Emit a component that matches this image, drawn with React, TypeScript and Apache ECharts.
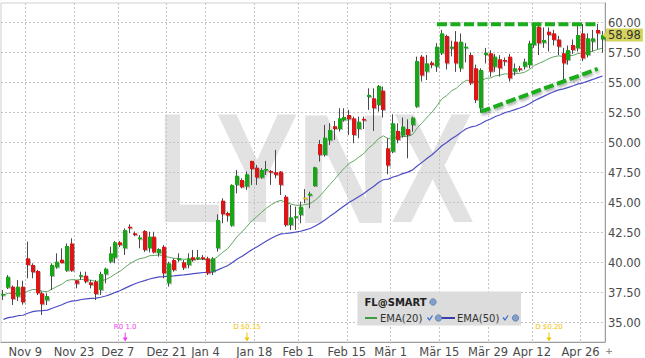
import React, { useEffect, useRef } from "react";
import * as echarts from "echarts";

const dates = [
  "2020-11-02","2020-11-03","2020-11-04","2020-11-05","2020-11-06","2020-11-09","2020-11-10","2020-11-11","2020-11-12","2020-11-13",
  "2020-11-16","2020-11-17","2020-11-18","2020-11-19","2020-11-20","2020-11-23","2020-11-24","2020-11-25","2020-11-27","2020-11-30",
  "2020-12-01","2020-12-02","2020-12-03","2020-12-04","2020-12-07","2020-12-08","2020-12-09","2020-12-10","2020-12-11","2020-12-14",
  "2020-12-15","2020-12-16","2020-12-17","2020-12-18","2020-12-21","2020-12-22","2020-12-23","2020-12-24","2020-12-28","2020-12-29",
  "2020-12-30","2020-12-31","2021-01-04","2021-01-05","2021-01-06","2021-01-07","2021-01-08","2021-01-11","2021-01-12","2021-01-13",
  "2021-01-14","2021-01-15","2021-01-19","2021-01-20","2021-01-21","2021-01-22","2021-01-25","2021-01-26","2021-01-27","2021-01-28",
  "2021-01-29","2021-02-01","2021-02-02","2021-02-03","2021-02-04","2021-02-05","2021-02-08","2021-02-09","2021-02-10","2021-02-11",
  "2021-02-12","2021-02-16","2021-02-17","2021-02-18","2021-02-19","2021-02-22","2021-02-23","2021-02-24","2021-02-25","2021-02-26",
  "2021-03-01","2021-03-02","2021-03-03","2021-03-04","2021-03-05","2021-03-08","2021-03-09","2021-03-10","2021-03-11","2021-03-12",
  "2021-03-15","2021-03-16","2021-03-17","2021-03-18","2021-03-19","2021-03-22","2021-03-23","2021-03-24","2021-03-25","2021-03-26",
  "2021-03-29","2021-03-30","2021-03-31","2021-04-01","2021-04-05","2021-04-06","2021-04-07","2021-04-08","2021-04-09","2021-04-12",
  "2021-04-13","2021-04-14","2021-04-15","2021-04-16","2021-04-19","2021-04-20","2021-04-21","2021-04-22","2021-04-23","2021-04-26",
  "2021-04-27","2021-04-28","2021-04-29","2021-04-30",
];

const opens = [
  37.35,37.92,38.00,37.17,38.00,40.36,39.81,39.31,37.45,36.86,
  38.89,39.61,40.25,39.33,41.60,38.53,38.86,38.92,38.36,38.42,
  37.72,39.03,40.08,40.42,41.70,41.20,43.00,42.45,41.95,42.64,
  41.20,42.17,40.78,41.33,38.28,40.22,40.25,40.03,39.81,40.45,
  40.36,40.45,40.36,39.25,41.20,45.17,44.14,43.09,46.48,46.89,
  46.34,48.48,47.92,47.09,47.73,47.64,47.53,47.59,45.50,43.14,
  43.80,43.98,45.42,45.59,46.39,49.89,48.98,50.20,51.37,51.14,
  51.87,52.31,52.03,51.14,51.98,53.81,53.70,53.14,54.34,49.53,
  49.25,50.98,50.59,51.14,51.48,53.00,57.17,55.92,56.67,56.33,
  57.45,58.89,57.83,58.42,56.20,57.90,57.31,56.20,52.86,57.31,
  57.45,56.33,56.95,56.89,57.17,55.92,56.20,56.33,56.47,58.14,
  59.67,58.33,59.25,59.11,58.60,57.45,56.89,58.14,57.86,59.11,
  57.30,58.42,59.39,58.60,
];
const highs = [
  37.72,38.97,38.10,38.56,38.50,41.75,39.95,39.40,37.60,37.45,
  39.95,40.78,41.20,41.60,42.03,38.56,39.25,39.25,38.56,38.56,
  39.25,39.58,41.33,41.80,41.80,42.86,43.20,42.60,42.30,42.72,
  42.58,42.58,41.20,41.47,40.08,40.36,40.78,40.22,40.78,41.06,
  41.06,40.64,40.50,40.45,44.03,45.37,44.25,46.53,47.73,47.03,
  47.59,48.50,48.14,47.87,48.48,47.73,49.40,47.64,45.64,44.81,
  44.67,45.09,46.14,45.92,48.00,50.23,51.48,51.62,51.81,52.87,
  52.87,52.73,52.17,52.17,52.17,54.53,54.53,54.81,54.67,50.37,
  52.37,51.62,52.09,51.95,52.17,57.17,57.31,57.31,56.80,58.30,
  59.40,59.00,58.50,59.30,59.10,58.30,57.50,56.50,56.20,57.90,
  57.70,57.40,57.30,57.10,57.40,56.60,56.40,57.00,58.50,60.00,
  60.00,59.60,59.60,59.40,58.90,57.90,58.10,58.60,59.80,59.90,
  59.10,59.40,59.90,59.30,
];
const lows = [
  36.89,37.81,36.47,36.81,36.50,38.70,38.70,37.30,35.64,36.47,
  37.72,39.50,39.95,39.25,39.25,37.86,38.56,38.28,37.86,36.89,
  37.31,38.28,39.95,39.95,41.30,40.64,42.45,42.20,41.20,40.90,
  40.86,40.78,40.50,38.70,38.00,39.25,40.08,39.39,39.53,40.08,
  40.22,40.22,38.97,38.97,40.92,43.28,43.42,43.00,45.78,46.20,
  46.06,46.48,46.48,47.00,47.31,46.48,47.03,45.64,43.00,42.73,
  42.73,43.28,44.95,44.53,46.34,48.42,48.84,49.81,50.23,50.92,
  51.75,50.64,49.95,50.37,51.14,52.73,50.98,52.59,52.09,47.37,
  49.12,49.95,50.42,48.70,50.92,52.92,55.10,55.22,56.20,55.90,
  57.30,56.10,57.20,55.90,55.90,56.70,54.80,53.30,52.50,56.60,
  55.50,55.90,55.50,56.40,55.10,55.60,55.90,56.10,56.20,57.90,
  57.30,57.90,57.60,58.10,57.30,55.20,56.50,57.40,57.60,56.80,
  57.10,57.60,57.80,57.50,
];
const closes = [
  37.40,38.83,36.97,38.00,36.70,39.81,39.20,37.45,36.53,37.22,
  39.81,40.08,39.97,41.39,39.33,38.25,38.97,38.42,38.14,37.39,
  39.06,39.50,40.78,41.70,41.47,42.72,42.86,42.30,42.10,41.06,
  42.17,40.86,41.14,39.11,39.95,39.39,40.36,39.58,40.36,40.22,
  40.45,40.30,39.11,40.36,43.56,44.03,43.92,46.48,47.25,46.28,
  47.37,47.81,47.09,47.73,47.81,47.53,47.31,46.48,43.14,43.78,
  43.87,44.67,45.42,45.75,47.95,48.98,50.42,51.06,51.14,52.03,
  52.14,51.95,50.64,51.75,51.87,53.98,52.87,54.73,52.73,48.09,
  51.62,50.23,51.34,50.64,52.09,56.81,55.60,56.61,56.47,58.00,
  59.11,56.61,58.00,56.61,58.42,58.00,54.95,53.56,56.06,57.50,
  55.92,57.17,56.20,56.78,55.36,56.20,56.10,56.75,58.28,59.72,
  58.28,58.56,58.97,58.56,58.00,56.61,57.72,57.72,58.97,57.03,
  58.70,58.70,59.11,58.98,
];

const ema20 = [
  37.31,37.45,37.40,37.46,37.39,37.62,37.77,37.74,37.62,37.59,
  37.80,38.02,38.20,38.51,38.59,38.56,38.60,38.58,38.54,38.43,
  38.49,38.59,38.80,39.07,39.30,39.63,39.93,40.16,40.34,40.41,
  40.58,40.60,40.65,40.51,40.46,40.36,40.36,40.28,40.29,40.28,
  40.30,40.30,40.19,40.20,40.52,40.86,41.15,41.65,42.19,42.58,
  43.03,43.49,43.83,44.20,44.55,44.83,45.07,45.20,45.01,44.89,
  44.79,44.78,44.84,44.93,45.21,45.57,46.03,46.51,46.95,47.44,
  47.89,48.27,48.50,48.81,49.10,49.56,49.88,50.34,50.57,50.33,
  50.46,50.43,50.52,50.53,50.68,51.26,51.67,52.14,52.55,53.07,
  53.65,53.93,54.32,54.54,54.91,55.20,55.18,55.03,55.13,55.35,
  55.40,55.57,55.63,55.74,55.70,55.75,55.78,55.87,56.10,56.44,
  56.62,56.80,57.01,57.16,57.24,57.18,57.23,57.28,57.44,57.40,
  57.52,57.63,57.77,57.89,
];
const ema50 = [
  35.28,35.42,35.48,35.58,35.62,35.79,35.92,35.98,36.00,36.05,
  36.20,36.35,36.49,36.68,36.79,36.84,36.93,36.98,37.03,37.04,
  37.12,37.22,37.36,37.53,37.68,37.88,38.07,38.24,38.39,38.50,
  38.64,38.73,38.82,38.83,38.88,38.90,38.95,38.98,39.03,39.08,
  39.13,39.18,39.18,39.23,39.40,39.58,39.75,40.01,40.30,40.53,
  40.80,41.07,41.31,41.56,41.80,42.03,42.24,42.40,42.43,42.48,
  42.54,42.62,42.73,42.85,43.05,43.28,43.56,43.86,44.14,44.45,
  44.75,45.04,45.26,45.51,45.76,46.08,46.35,46.68,46.91,46.96,
  47.14,47.26,47.42,47.55,47.73,48.08,48.38,48.70,49.00,49.36,
  49.74,50.01,50.32,50.57,50.88,51.16,51.31,51.39,51.58,51.81,
  51.97,52.18,52.33,52.51,52.62,52.76,52.89,53.04,53.25,53.50,
  53.69,53.88,54.08,54.25,54.40,54.49,54.61,54.74,54.90,54.99,
  55.13,55.27,55.42,55.56,
];

const tickDates = ["2020-11-09","2020-11-23","2020-12-07","2020-12-21","2021-01-04","2021-01-19","2021-02-01","2021-02-16","2021-03-01","2021-03-15","2021-03-29","2021-04-12","2021-04-26"];
const tickLabels = ["Nov 9","Nov 23","Dez 7","Dez 21","Jan 4","Jan 18","Feb 1","Feb 15","Mär 1","Mär 15","Mär 29","Apr 12","Apr 26"];
const yTicks = [35, 37.5, 40, 42.5, 45, 47.5, 50, 52.5, 55, 57.5, 60];
const yRange = [33.39, 61.64];
const lastPrice = 58.98;

const resistanceDates = ["2021-03-12", "2021-04-29"];
const resistanceValues = [59.87, 59.87];
const supportDates = ["2021-03-25", "2021-04-29"];
const supportValues = [52.58, 56.15];

const eventDates = ["2020-12-08", "2021-01-14", "2021-04-15"];
const eventTexts = ["R0 1.0", "D $0.15", "D $0.20"];
const eventKinds = ["R", "D", "D"];

const legendTitle = "FL@SMART";
const legendNames = ["EMA(20)", "EMA(50)"];

const GREEN = "#14a614";
const RED = "#dc1616";
const GOLD = "#efc000";
const KIND_COLOR: Record<string, string> = { R: "#f03cf0", D: "#f2c400" };
const ARROW = "path://M2,0 L3,0 L3,5 L5,5 L2.5,9 L0,5 L2,5 Z";
const FONT = "DejaVu Sans";

function endpointSeries(ds: string[], vs: number[]) {
  return dates.map((d) => {
    const k = ds.indexOf(d);
    return k >= 0 ? vs[k] : null;
  });
}

export default function App() {
  const ref = useRef<HTMLDivElement>(null);

  useEffect(() => {
    if (!ref.current) return;
    const chart = echarts.init(ref.current, undefined, { renderer: "svg" });

    const tickIdx = new Set(tickDates.map((d) => dates.indexOf(d)));
    const labelOf: Record<string, string> = {};
    tickDates.forEach((d, k) => (labelOf[d] = tickLabels[k]));
    const candleData = dates.map((d, i) => [i, opens[i], closes[i], lows[i], highs[i]]);

    const wmLetters = ["L", "Y", "N", "X"];
    const wmX = [190, 257, 343.5, 432.5];
    const wmScale = [0.68, 0.8, 0.84, 0.8];

    const chk = (x: number, y: number) => ({
      type: "polyline",
      z: 22,
      shape: { points: [[x, y - 0.5], [x + 2, y + 2], [x + 5, y - 2.5]] },
      style: { stroke: "#3a6fd0", lineWidth: 1.3, fill: null },
    });
    const dot = (x: number, y: number) => ({
      type: "circle",
      z: 22,
      shape: { cx: x, cy: y, r: 3.2 },
      style: { fill: "#829fcb", stroke: "#5b79aa", lineWidth: 0.8 },
    });

    const trendBase = { color: "#1aac1a", width: 4, type: [10, 3.5] };

    const option: any = {
      animation: false,
      backgroundColor: "#ffffff",
      textStyle: { fontFamily: FONT },
      grid: { left: 1, right: 40, top: 3, bottom: 16, show: true, borderColor: "#cfcfcf", borderWidth: 1 },
      xAxis: {
        type: "category",
        data: dates,
        boundaryGap: true,
        axisLine: { show: true, lineStyle: { color: "#9c9c9c" } },
        axisTick: { show: false },
        axisLabel: {
          interval: (i: number) => tickIdx.has(i),
          formatter: (v: string) => labelOf[v] ?? "",
          color: "#4a4a4a",
          fontSize: 11.5,
          fontFamily: FONT,
          margin: 4,
          padding: [0, 5, 0, 0],
        },
        splitLine: {
          show: true,
          interval: (i: number) => tickIdx.has(i),
          lineStyle: { color: "#c4c4c4", type: [2, 2] },
        },
      },
      yAxis: {
        type: "value",
        position: "right",
        min: yRange[0],
        max: yRange[1],
        axisLine: { show: true, lineStyle: { color: "#9c9c9c" } },
        axisTick: { show: false, customValues: yTicks },
        axisLabel: {
          customValues: yTicks,
          formatter: (v: number) => v.toFixed(2),
          color: "#4a4a4a",
          fontSize: 11.5,
          fontFamily: FONT,
          margin: 3,
        },
        splitLine: { show: true, lineStyle: { color: "#c4c4c4", type: [2, 2] } },
      },
      series: [
        {
          name: legendNames[0],
          type: "line",
          data: ema20,
          symbol: "none",
          z: 2,
          lineStyle: { color: "#5fa85f", width: 1 },
        },
        {
          name: legendNames[1],
          type: "line",
          data: ema50,
          symbol: "none",
          z: 2,
          lineStyle: { color: "#4d4dc6", width: 1.2 },
          markPoint: {
            silent: true,
            data: [
              ...eventDates.map((d, k) => ({
                coord: [d, 33.81],
                symbol: ARROW,
                symbolSize: [5, 9],
                itemStyle: { color: KIND_COLOR[eventKinds[k]] },
                label: {
                  show: true,
                  position: "top",
                  distance: 2,
                  formatter: eventTexts[k],
                  color: KIND_COLOR[eventKinds[k]],
                  fontSize: 7,
                  fontFamily: FONT,
                },
              })),
              {
                coord: [dates[dates.length - 1], lastPrice],
                symbol: "triangle",
                symbolSize: [7, 5],
                symbolRotate: 90,
                symbolOffset: [2, 0],
                itemStyle: { color: "#d4d45c" },
                label: { show: false },
              },
            ],
          },
          markLine: {
            silent: true,
            symbol: ["none", "none"],
            data: [{ yAxis: lastPrice }],
            lineStyle: { color: "rgba(0,0,0,0)", width: 0 },
            label: {
              show: true,
              position: "end",
              formatter: lastPrice.toFixed(2),
              backgroundColor: "#d4d45c",
              color: "#333333",
              fontSize: 11.5,
              fontFamily: FONT,
              padding: [1, 2, 0, 2],
              distance: 1,
            },
          },
        },
        {
          name: legendTitle,
          type: "custom",
          z: 3,
          data: candleData,
          encode: { x: 0, y: [1, 2, 3, 4] },
          renderItem: (params: any, api: any) => {
            const i = api.value(0);
            const o = api.value(1);
            const c = api.value(2);
            const l = api.value(3);
            const h = api.value(4);
            const pO = api.coord([i, o]);
            const pC = api.coord([i, c]);
            const pH = api.coord([i, h]);
            const pL = api.coord([i, l]);
            const cx = Math.round(pO[0]);
            const top = Math.min(pO[1], pC[1]);
            const bh = Math.max(Math.abs(pO[1] - pC[1]), 1.6);
            const color = c > o ? GREEN : c < o ? RED : GOLD;
            return {
              type: "group",
              children: [
                {
                  type: "line",
                  shape: { x1: cx - 0.5, y1: pH[1], x2: cx - 0.5, y2: pL[1] },
                  style: { stroke: "#4a4a4a", lineWidth: 1 },
                },
                {
                  type: "rect",
                  shape: { x: cx - 2, y: top, width: 4, height: bh },
                  style: {
                    fill: color,
                    shadowColor: "rgba(0,0,0,0.28)",
                    shadowOffsetX: 1,
                    shadowOffsetY: 1,
                    shadowBlur: 1,
                  },
                },
              ],
            };
          },
        },
        {
          name: "resistance",
          type: "line",
          data: endpointSeries(resistanceDates, resistanceValues),
          connectNulls: true,
          symbol: "none",
          z: 4,
          silent: true,
          lineStyle: trendBase,
        },
        {
          name: "support",
          type: "line",
          data: endpointSeries(supportDates, supportValues),
          connectNulls: true,
          symbol: "none",
          z: 4,
          silent: true,
          lineStyle: {
            ...trendBase,
            shadowBlur: 3,
            shadowColor: "rgba(0,0,0,0.35)",
            shadowOffsetY: 2,
            shadowOffsetX: 1,
          },
        },
      ],
      graphic: [
        ...wmLetters.map((ch, k) => ({
          type: "text",
          z: -1,
          silent: true,
          x: wmX[k],
          y: 168.5,
          scaleX: wmScale[k],
          style: {
            text: ch,
            font: "bold 155px 'Liberation Sans'",
            fill: "#e2e2e2",
            align: "center",
            verticalAlign: "middle",
            textAlign: "center",
            textVerticalAlign: "middle",
          },
        })),
        {
          type: "rect",
          z: 20,
          shape: { x: 357.5, y: 291.5, width: 163.5, height: 34 },
          style: { fill: "#dcdcdc" },
        },
        {
          type: "text",
          z: 21,
          x: 364.5,
          y: 302,
          style: {
            text: legendTitle,
            font: `bold 10px '${FONT}'`,
            fill: "#222222",
            verticalAlign: "middle",
            textVerticalAlign: "middle",
          },
        },
        dot(433, 302),
        {
          type: "line",
          z: 21,
          shape: { x1: 365, y1: 318, x2: 377, y2: 318 },
          style: { stroke: "#3f9c3f", lineWidth: 2 },
        },
        {
          type: "text",
          z: 21,
          x: 380,
          y: 318,
          style: {
            text: legendNames[0],
            font: `10px '${FONT}'`,
            fill: "#333333",
            verticalAlign: "middle",
            textVerticalAlign: "middle",
          },
        },
        chk(427.5, 318),
        dot(438.5, 318),
        {
          type: "line",
          z: 21,
          shape: { x1: 441.5, y1: 318, x2: 455, y2: 318 },
          style: { stroke: "#3b3bb0", lineWidth: 2 },
        },
        {
          type: "text",
          z: 21,
          x: 457,
          y: 318,
          style: {
            text: legendNames[1],
            font: `10px '${FONT}'`,
            fill: "#333333",
            verticalAlign: "middle",
            textVerticalAlign: "middle",
          },
        },
        chk(503, 318),
        dot(515.5, 318),
        {
          type: "text",
          z: 21,
          x: 609,
          y: 351,
          style: {
            text: "+",
            font: `bold 9px '${FONT}'`,
            fill: "#8a8a8a",
            align: "center",
            verticalAlign: "middle",
            textAlign: "center",
            textVerticalAlign: "middle",
          },
        },
      ],
    };

    chart.setOption(option);
    return () => chart.dispose();
  }, []);

  return (
    <div
      ref={ref}
      style={{ position: "fixed", left: 0, top: 0, width: 645, height: 358, background: "#ffffff" }}
    />
  );
}
